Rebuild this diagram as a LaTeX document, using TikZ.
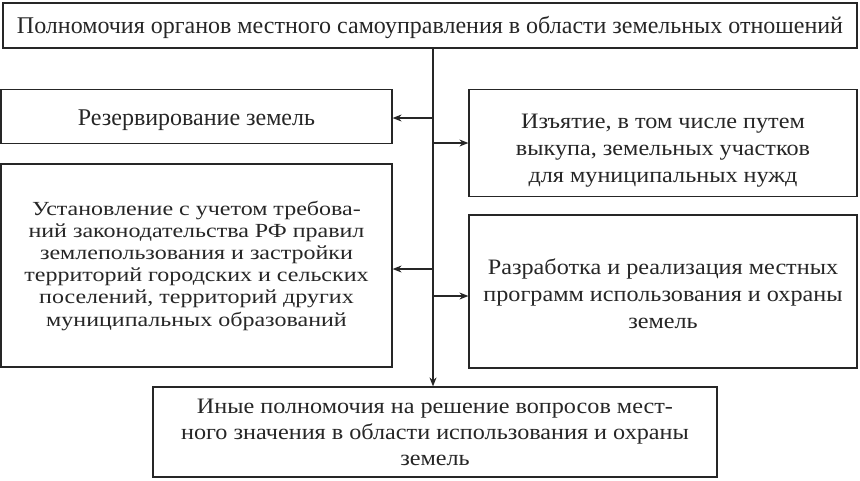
\documentclass[tikz,border=0pt]{standalone}
\usepackage{fontspec}
\setmainfont{Liberation Serif}
\newfontfamily\fa[FakeStretch=1.1]{Liberation Serif}
\newfontfamily\fb[FakeStretch=1.2]{Liberation Serif}
\usetikzlibrary{arrows.meta}
\tikzset{
  box/.style={draw=black!85, line width=1.2pt, inner sep=0pt},
  txt/.style={text=black!85, align=center, inner sep=0pt},
  big/.style={font=\fontsize{24}{26}\selectfont},
  mid/.style={font=\fa\fontsize{22}{27}\selectfont},
  sml/.style={font=\fb\fontsize{20}{22.2}\selectfont},
  arr/.style={draw=black!85, line width=1.1pt, -{Stealth[length=9pt,width=7pt]}},
}
\begin{document}
\begin{tikzpicture}[x=1pt,y=-1pt]
\useasboundingbox (0,0) rectangle (860,480);
\node[box, minimum width=854pt, minimum height=45pt] (top) at (430,25.5) {};
\node[txt, big, yshift=-1.5pt] (topt) at (top.center)
  {Полномочия органов местного самоуправления в области земельных отношений};
\node[box, minimum width=391pt, minimum height=54pt] (l1) at (196.5,116.5) {};
\node[txt, big, yshift=-4pt] (l1t) at (l1.center) {Резервирование земель};
\node[box, minimum width=388pt, minimum height=107pt] (r1) at (663,143) {};
\node[txt, mid, yshift=-8pt] (r1t) at (r1.center)
  {Изъятие, в том числе путем\\выкупа, земельных участков\\для муниципальных нужд};
\node[box, minimum width=391pt, minimum height=203pt] (l2) at (196.5,265.5) {};
\node[txt, sml, yshift=0pt] (l2t) at (l2.center)
  {Установление с учетом требова-\\ний законодательства РФ правил\\землепользования и застройки\\территорий городских и сельских\\поселений, территорий других\\муниципальных образований};
\node[box, minimum width=388pt, minimum height=153pt] (r2) at (663,291.5) {};
\node[txt, mid, yshift=-2pt] (r2t) at (r2.center)
  {Разработка и реализация местных\\программ использования и охраны\\земель};
\node[box, minimum width=564pt, minimum height=90pt] (bot) at (435,432) {};
\node[txt, mid, font=\fa\fontsize{22}{26}\selectfont] (bott) at (bot.center)
  {Иные полномочия на решение вопросов мест-\\ного значения в области использования и охраны\\земель};
\coordinate (t0) at (433,48);
\coordinate (j1) at (433,118);
\coordinate (j2) at (433,143);
\coordinate (j3) at (433,269);
\coordinate (j4) at (433,296);
\draw[arr] (t0) -- (t0 |- bot.north);
\draw[arr] (j1) -- (j1 -| l1.east);
\draw[arr] (j2) -- (j2 -| r1.west);
\draw[arr] (j3) -- (j3 -| l2.east);
\draw[arr] (j4) -- (j4 -| r2.west);
\end{tikzpicture}
\end{document}
